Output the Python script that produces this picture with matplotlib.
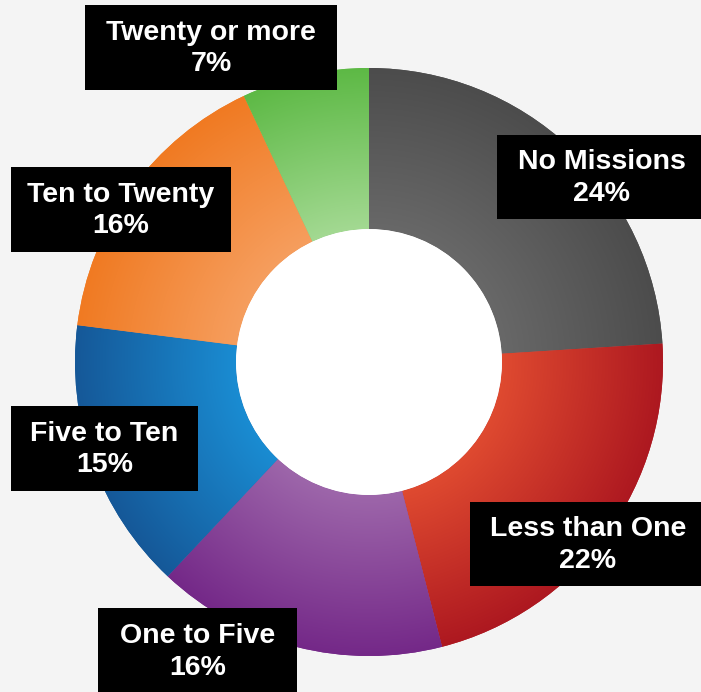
import numpy as np
import matplotlib
matplotlib.use("Agg")
import matplotlib.pyplot as plt
from matplotlib.colors import to_rgb
from matplotlib.patches import Rectangle, Circle

# data
categories = ["No Missions", "Less than One", "One to Five",
              "Five to Ten", "Ten to Twenty", "Twenty or more"]
shares = [24, 22, 16, 15, 16, 7]
# (inner colour, outer colour) of each slice's radial gradient
inner_colors = ["#686868", "#df4a30", "#9d66aa", "#1a8cd2", "#f69e5e", "#a3d992"]
outer_colors = ["#4c4c4c", "#ad1820", "#742888", "#155898", "#f07a22", "#5db945"]

W, H = 701, 692
cx, cy = 369, H - 362     # donut centre (y measured up)
R, r_in = 294, 133

plt.rcParams['font.family'] = ['Liberation Sans', 'DejaVu Sans']

fig = plt.figure(figsize=(W / 100, H / 100), dpi=100, facecolor="#f4f4f4")
ax = fig.add_axes([0, 0, 1, 1])
ax.set_facecolor("#f4f4f4")

wedges, _ = ax.pie(shares, startangle=90, counterclock=False, radius=R,
                   center=(cx, cy), colors=outer_colors,
                   wedgeprops=dict(width=R - r_in, linewidth=0))

# radial gradient fill, clipped to each wedge
xx, yy = np.meshgrid(np.arange(W) + 0.5, np.arange(H) + 0.5)
t = np.clip((np.hypot(xx - cx, yy - cy) - r_in) / (R - r_in), 0, 1)[..., None]
for w, c0, c1 in zip(wedges, inner_colors, outer_colors):
    img = np.array(to_rgb(c0)) * (1 - t) + np.array(to_rgb(c1)) * t
    im = ax.imshow(img, extent=(0, W, 0, H), origin="lower", zorder=2,
                   interpolation="bilinear")
    im.set_clip_path(w)

ax.add_patch(Circle((cx, cy), r_in, facecolor="white", edgecolor="none", zorder=3))

# label boxes: left, top, right, bottom in image pixels
boxes = [(497, 135, 706, 219), (470, 502, 706, 586), (98, 608, 297, 694),
         (11, 406, 198, 491), (11, 167, 231, 252), (85, 5, 337, 90)]
for name, val, (x0, y0, x1, y1) in zip(categories, shares, boxes):
    ax.add_patch(Rectangle((x0, H - y1), x1 - x0, y1 - y0, facecolor="black",
                           edgecolor="none", zorder=4))
    ax.text((x0 + x1) / 2, H - (y0 + y1) / 2 - 1, f"{name}\n{val}%", color="white",
            fontsize=20.5, fontweight="bold", ha="center", va="center",
            linespacing=1.27, zorder=5)

ax.set_xlim(0, W)
ax.set_ylim(0, H)
ax.set_aspect("auto")
ax.axis("off")
fig.savefig("out.png", dpi=100, facecolor="#f4f4f4")
